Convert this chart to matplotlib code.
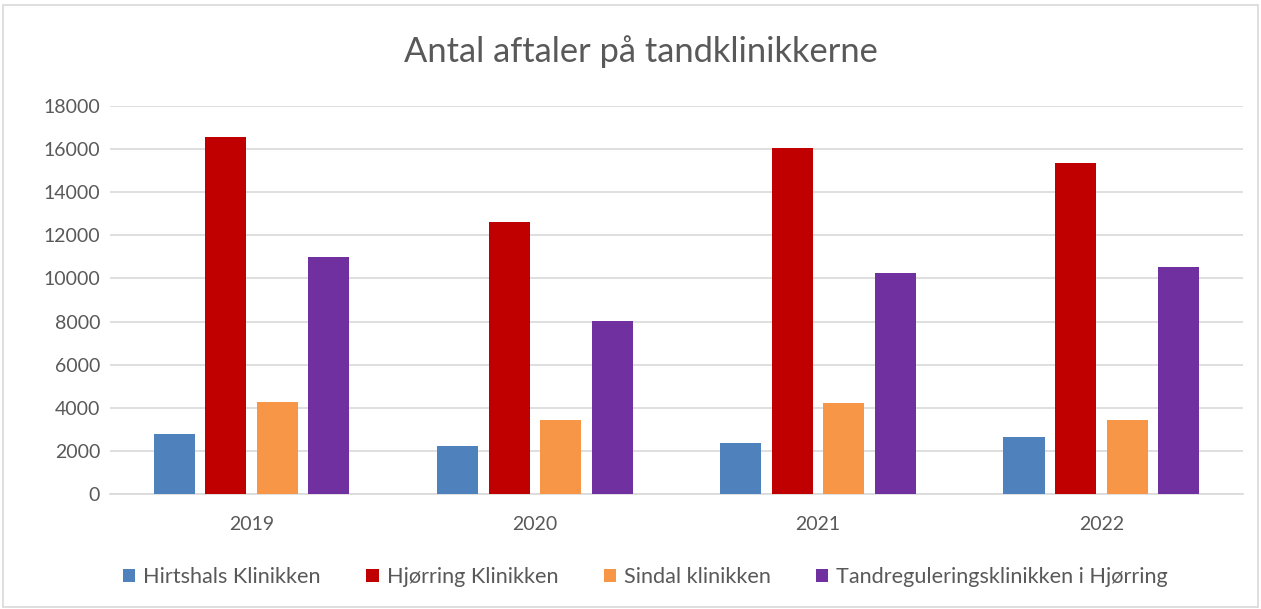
import matplotlib
matplotlib.use("Agg")
import matplotlib.pyplot as plt
from matplotlib.patches import Rectangle, Patch
import numpy as np

years = ["2019", "2020", "2021", "2022"]
series_names = ["Hirtshals Klinikken", "Hjørring Klinikken", "Sindal klinikken",
                "Tandreguleringsklinikken i Hjørring"]
hirtshals = [2780, 2230, 2370, 2630]
hjorring = [16570, 12620, 16030, 15360]
sindal = [4290, 3450, 4220, 3450]
tandreg = [11000, 8010, 10230, 10520]
colors = ["#4f81bd", "#c00000", "#f79646", "#7030a0"]
yticks = [0, 2000, 4000, 6000, 8000, 10000, 12000, 14000, 16000, 18000]

plt.rcParams['font.family'] = ['Lato', 'DejaVu Sans']
txt = "#595959"

fig = plt.figure(figsize=(12.61, 6.09), dpi=100)
fig.patches.append(Rectangle((0.002, 0.003), 0.996, 0.989, transform=fig.transFigure,
                             fill=False, edgecolor="#d9d9d9", linewidth=1.2))
ax = fig.add_axes([0.0872, 0.1888, 0.8985, 0.6372])

x = np.arange(len(years))
step = 0.182
width = 0.145
data = [hirtshals, hjorring, sindal, tandreg]
handles = []
for i, (vals, name, c) in enumerate(zip(data, series_names, colors)):
    ax.bar(x + (i - 1.5) * step, vals, width=width, color=c, label=name, zorder=3)
    handles.append(Patch(facecolor=c, label=name))

ax.set_xlim(-0.5, len(years) - 0.5)
ax.set_ylim(0, 18000)
ax.set_yticks(yticks)
ax.set_yticklabels([str(t) for t in yticks])
ax.set_xticks(x)
ax.set_xticklabels(years)
ax.grid(axis="y", color="#d9d9d9", linewidth=1.2, zorder=0)
for s in ["top", "right", "left"]:
    ax.spines[s].set_visible(False)
ax.spines["bottom"].set_color("#d9d9d9")
ax.spines["bottom"].set_linewidth(1.2)
ax.tick_params(axis="both", length=0, labelsize=14, labelcolor=txt)
ax.tick_params(axis="x", pad=16)
ax.tick_params(axis="y", pad=7)

fig.text(0.508, 0.915, "Antal aftaler på tandklinikkerne",
         ha="center", va="center", fontsize=24.8, color=txt)

fig.legend(handles=handles, loc="center", bbox_to_anchor=(0.512, 0.052), ncol=4,
           frameon=False, fontsize=15.6, labelcolor=txt, handlelength=0.56,
           handleheight=0.56, handletextpad=0.37, columnspacing=2.1)

fig.savefig("out.png", dpi=100)
